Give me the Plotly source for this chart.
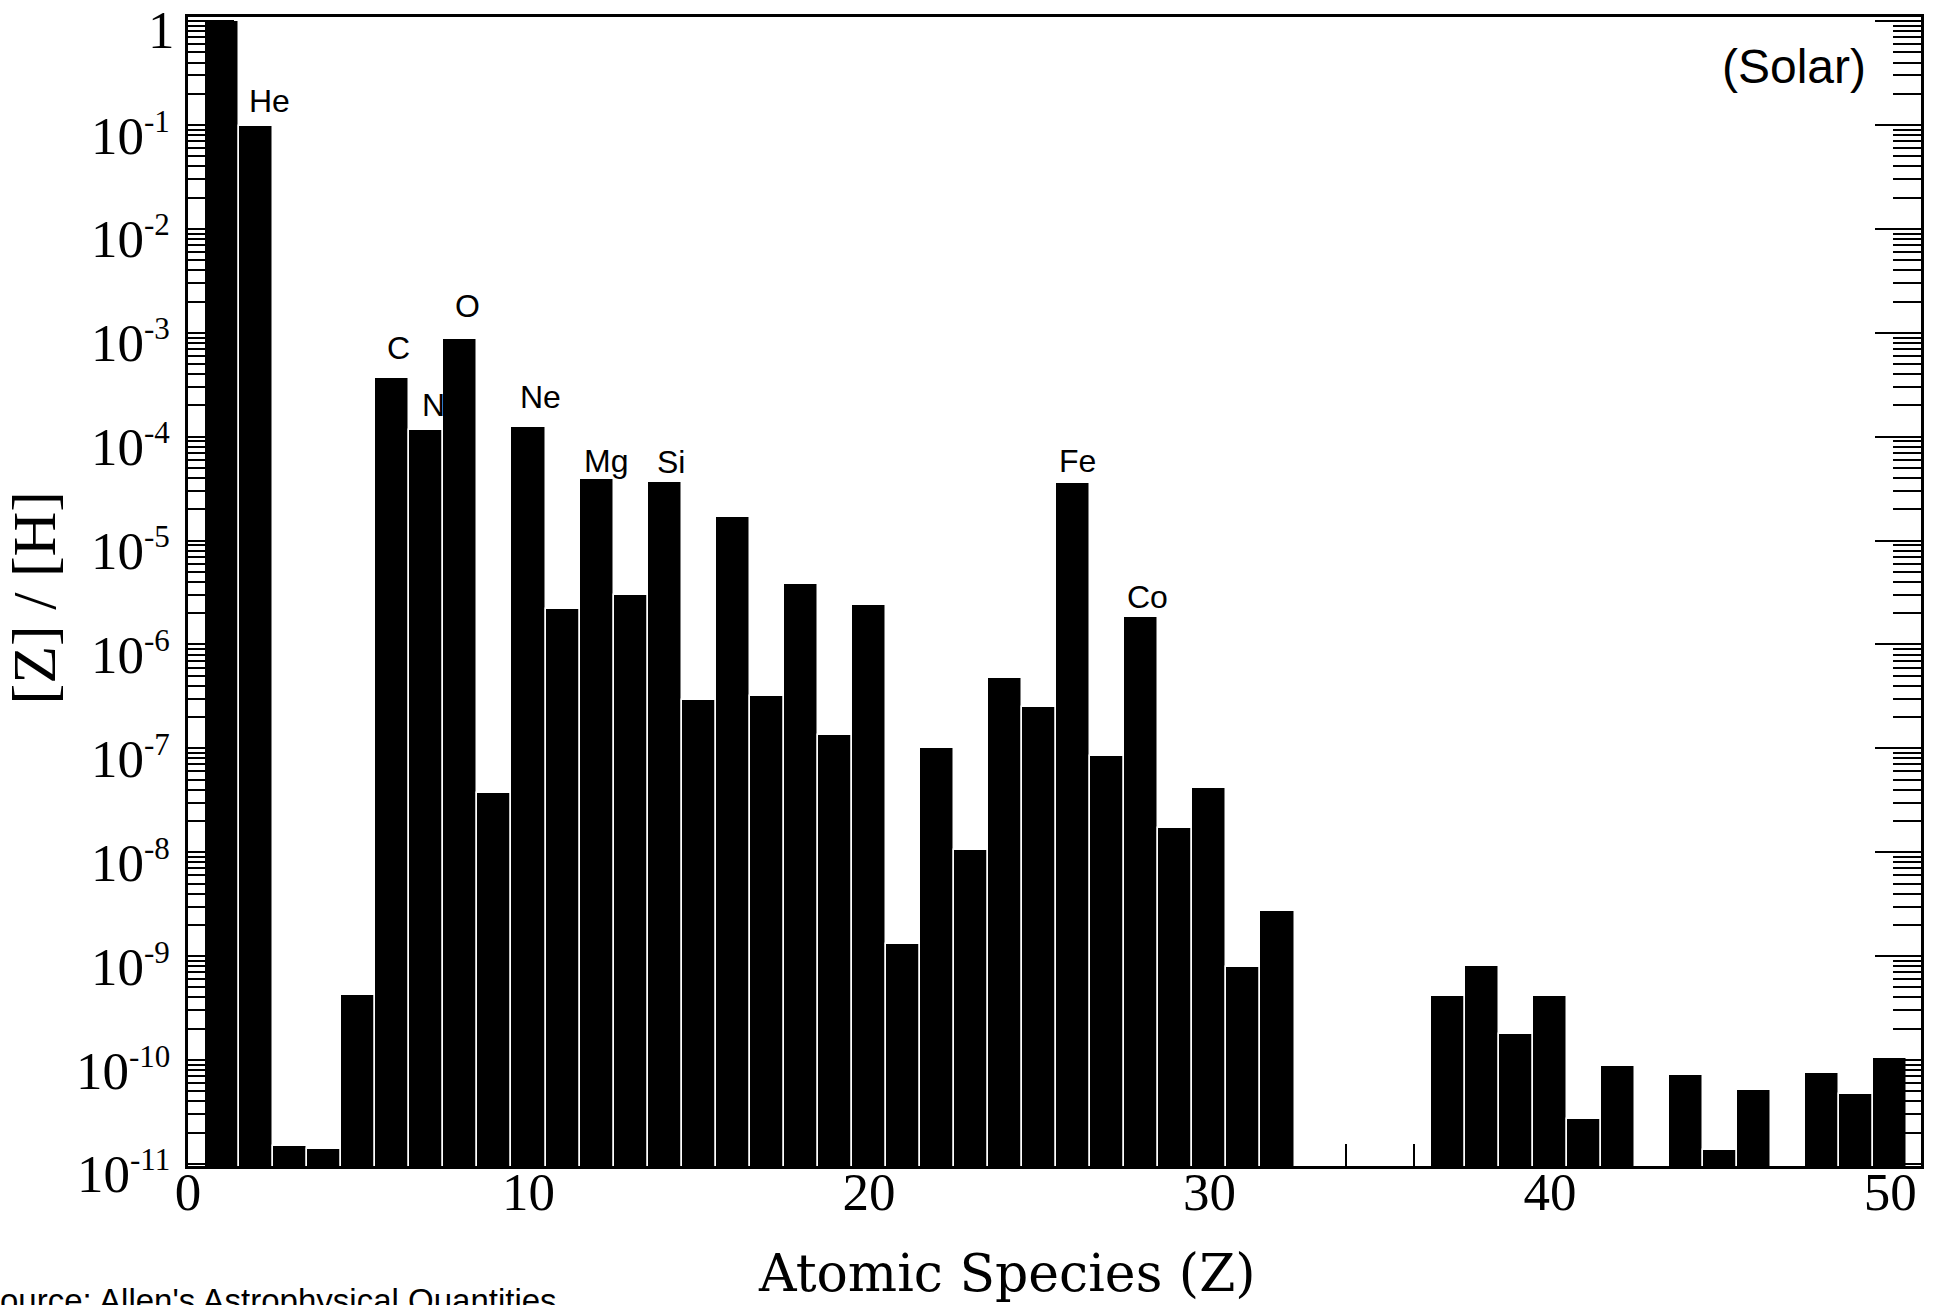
import math
import plotly.graph_objects as go

# ---- data ----
atomic_number = list(range(1, 51))
abundance = [
    1.0, 0.098, 1.5e-11, 1.4e-11, 4.2e-10, 3.7e-4, 1.15e-4, 8.7e-4, 3.7e-8, 1.25e-4,
    2.2e-6, 3.9e-5, 3.0e-6, 3.7e-5, 2.9e-7, 1.7e-5, 3.2e-7, 3.8e-6, 1.35e-7, 2.4e-6,
    1.3e-9, 1.0e-7, 1.05e-8, 4.8e-7, 2.5e-7, 3.6e-5, 8.5e-8, 1.85e-6, 1.7e-8, 4.2e-8,
    7.8e-10, 2.7e-9, None, None, None, None, 4.1e-10, 8.0e-10, 1.8e-10, 4.1e-10,
    2.7e-11, 8.7e-11, None, 7.2e-11, 1.35e-11, 5.1e-11, None, 7.5e-11, 4.7e-11, 1.05e-10,
]
trace_z = [34, 36]
trace_abundance = [1.55e-11, 1.55e-11]

labelled_names = ["He", "C", "N", "O", "Ne", "Mg", "Si", "Fe", "Co"]
labelled_z = [2, 6, 7, 8, 10, 12, 14, 26, 28]

y_tick_vals = [1e-11, 1e-10, 1e-9, 1e-8, 1e-7, 1e-6, 1e-5, 1e-4, 1e-3, 1e-2, 1e-1, 1]
y_tick_exponents = ["-11", "-10", "-9", "-8", "-7", "-6", "-5", "-4", "-3", "-2", "-1", None]
x_tick_vals = [0, 10, 20, 30, 40, 50]

# label pixel offsets (dx, dy) relative to bar top centre
label_offsets = {
    "He": (13, 25), "C": (6, 30), "N": (7, 25), "O": (7, 33), "Ne": (12, 30),
    "Mg": (9, 18), "Si": (6, 20), "Fe": (4, 22), "Co": (6, 20),
}

PLOT_L, PLOT_R, PLOT_T, PLOT_B = 188, 17, 17, 139
W, H = 1938, 1305
plot_w = W - PLOT_L - PLOT_R

fig = go.Figure()
fig.add_trace(go.Bar(
    x=atomic_number, y=abundance, width=1.0,
    marker=dict(color="black", line=dict(color="white", width=1.5)),
    showlegend=False, hoverinfo="x+y",
))
fig.add_trace(go.Bar(
    x=trace_z, y=trace_abundance, width=0.06,
    marker=dict(color="black", line=dict(width=0)),
    showlegend=False, hoverinfo="skip",
))

value_of = dict(zip(atomic_number, abundance))
for name, z in zip(labelled_names, labelled_z):
    dx, dy = label_offsets[name]
    fig.add_annotation(
        x=z, y=math.log10(value_of[z]), text=name, showarrow=False,
        xanchor="center", yanchor="middle", xshift=dx, yshift=dy,
        font=dict(family="Liberation Sans", size=32, color="black"),
    )

# y tick labels (as annotations so they can sit slightly below the ticks, like the original)
for val, exp in zip(y_tick_vals, y_tick_exponents):
    if exp is None:
        txt, xs = "1", -11
    else:
        txt, xs = f"10<sup><span style='font-size:31px'>{exp}</span></sup>", -16
    fig.add_annotation(
        xref="paper", yref="y", x=0, y=math.log10(val), text=txt, showarrow=False,
        xanchor="right", yanchor="middle", xshift=xs, yshift=-9,
        font=dict(family="Liberation Serif", size=53, color="black"),
    )

fig.add_annotation(
    xref="paper", yref="paper", x=1, y=1, xanchor="right", yanchor="top",
    xshift=-53, yshift=-21, text="(Solar)", showarrow=False,
    font=dict(family="Liberation Sans", size=48, color="black"),
)
fig.add_annotation(
    xref="paper", yref="paper", x=0, y=0, xanchor="left", yanchor="top",
    xshift=-212, yshift=-114, text="Source: Allen's Astrophysical Quantities",
    showarrow=False, font=dict(family="Liberation Sans", size=33, color="black"),
)
# axis titles as annotations to match their off-centre positions
fig.add_annotation(
    xref="paper", yref="paper", x=(1007 - PLOT_L) / plot_w, y=0, xanchor="center", yanchor="middle",
    yshift=-107, text="Atomic Species (Z)", showarrow=False,
    font=dict(family="DejaVu Serif", size=52, color="black"),
)
fig.add_annotation(
    xref="paper", yref="paper", x=0, y=0.5, xanchor="center", yanchor="middle",
    xshift=-155, yshift=-7, textangle=-90, text="[Z] / [H]", showarrow=False,
    font=dict(family="Liberation Serif", size=62, color="black"),
)

fig.update_layout(
    width=W, height=H,
    margin=dict(l=PLOT_L, r=PLOT_R, t=PLOT_T, b=PLOT_B),
    paper_bgcolor="white", plot_bgcolor="white",
    bargap=0, barmode="overlay",
)
fig.update_xaxes(
    range=[0, 50.9], tickvals=x_tick_vals, ticks="", showgrid=False, zeroline=False,
    showline=True, linecolor="black", linewidth=2.5, mirror=True, automargin=False,
    tickfont=dict(family="Liberation Serif", size=53, color="black"),
    ticklabelstandoff=-22,
)
fig.update_yaxes(
    type="log", range=[-11.02, 0.04], tickmode="array", tickvals=y_tick_vals,
    showticklabels=False,
    ticks="inside", ticklen=46, tickwidth=2, tickcolor="black",
    minor=dict(ticks="inside", ticklen=28, tickwidth=1.5, tickcolor="black", dtick="D1", showgrid=False),
    showgrid=False, zeroline=False, automargin=False,
    showline=True, linecolor="black", linewidth=2.5, mirror="ticks",
)

fig.write_html("out.html", config={"displayModeBar": False},
               post_script="document.body.style.margin='0';")
